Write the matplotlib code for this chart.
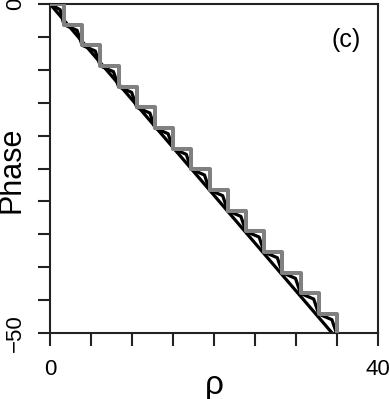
import matplotlib
matplotlib.use("Agg")
import matplotlib.pyplot as plt

plt.rcParams['font.family'] = ['Liberation Sans', 'DejaVu Sans']

# Staircase (gray): riser positions and levels
stair_rho = [0.0, 1.70, 3.92, 6.14, 8.36, 10.58, 12.80, 15.02, 17.24, 19.46,
             21.68, 23.90, 26.12, 28.34, 30.56, 32.78, 35.00]
stair_phase = [0.0, -3.14, -6.28, -9.42, -12.57, -15.71, -18.85, -21.99, -25.13,
               -28.27, -31.42, -34.56, -37.70, -40.84, -43.98, -47.12, -50.27]

# Straight linear phase (black)
line_rho = [0.0, 34.4]
line_phase = [0.0, -50.0]

# Wavy phase (black, thick)
wavy_rho = [0.0, 1.23, 1.70, 3.30, 3.92, 5.52, 6.14, 7.74, 8.36, 9.96, 10.58,
            12.18, 12.80, 14.40, 15.02, 16.62, 17.24, 18.84, 19.46, 21.06, 21.68,
            23.28, 23.90, 25.50, 26.12, 27.72, 28.34, 29.94, 30.56, 32.16, 32.78,
            34.38, 35.00]
wavy_phase = [0.0, -0.86, -3.14, -4.00, -6.28, -7.14, -9.42, -10.28, -12.57,
              -13.43, -15.71, -16.57, -18.85, -19.71, -21.99, -22.85, -25.13,
              -25.99, -28.27, -29.13, -31.42, -32.28, -34.56, -35.42, -37.70,
              -38.56, -40.84, -41.70, -43.98, -44.84, -47.12, -47.98, -50.27]

x_ticks = [0, 5, 10, 15, 20, 25, 30, 35, 40]
x_labels = ['0', '', '', '', '', '', '', '', '40']
y_ticks = [0, -5, -10, -15, -20, -25, -30, -35, -40, -45, -50]
y_labels = ['0', '', '', '', '', '', '', '', '', '', '\u221250']

fig = plt.figure(figsize=(3.9, 3.99), dpi=100)
ax = fig.add_axes([50/390, 1-333/399, 328/390, 329/399])

ax.plot(line_rho, line_phase, color='black', lw=2.3, solid_capstyle='butt', zorder=2)
ax.plot(wavy_rho, wavy_phase, color='black', lw=2.3, zorder=3)
ax.step(stair_rho, stair_phase, where='post', color='#808080', lw=2.9, zorder=4)

ax.set_xlim(0, 40)
ax.set_ylim(-50, 0)
ax.set_xticks(x_ticks)
ax.set_xticklabels(x_labels)
ax.set_yticks(y_ticks)
ax.set_yticklabels(y_labels, rotation=90, va='center')
ax.tick_params(axis='both', direction='out', length=9, width=1.5, color='#222222',
               labelsize=16, pad=10)
ax.tick_params(axis='y', pad=8)
for s in ax.spines.values():
    s.set_linewidth(1.5)
    s.set_color('#222222')

ax.set_xlabel('\u03c1', fontsize=24, va='center')
ax.xaxis.set_label_coords(0.5, -0.16)
ax.set_ylabel('Phase', fontsize=22, va='center')
ax.yaxis.set_label_coords(-0.118, 0.495)
ax.text(36.1, -5.5, '(c)', fontsize=18, ha='center', va='center')

fig.savefig('out.png', dpi=100)
